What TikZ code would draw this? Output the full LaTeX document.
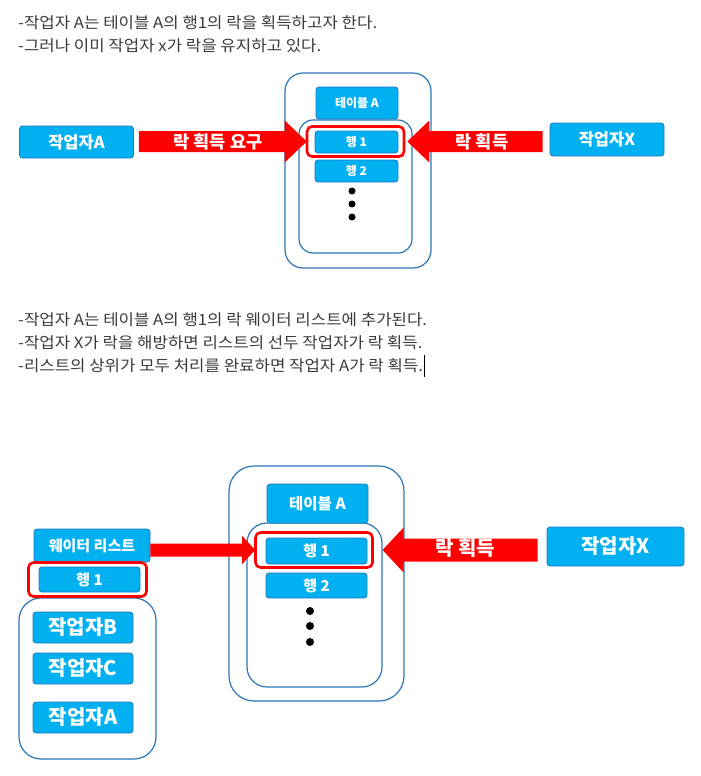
\documentclass[tikz,border=0pt]{standalone}
\usepackage{fontspec}
\setmainfont{Noto Sans CJK KR}
\newfontfamily\bodyfont{Noto Sans CJK KR}[FakeStretch=1.08]
\usetikzlibrary{calc}
\definecolor{boxfill}{HTML}{00B0F0}
\definecolor{boxline}{HTML}{1F78C0}
\definecolor{frameblue}{HTML}{2E75B6}
\definecolor{txt}{HTML}{3A3A3A}
\definecolor{arrred}{HTML}{FF0000}
\newcommand\fatarrow[5]{%
  \fill[arrred] ($(#1 |- #2)+(0,-#3)$) -- ($(#2)+(#5,-#3)$) -- ($(#2)+(#5,-#4)$) -- (#2)
    -- ($(#2)+(#5,#4)$) -- ($(#2)+(#5,#3)$) -- ($(#1 |- #2)+(0,#3)$) -- cycle;}
\begin{document}
\begin{tikzpicture}[x=1pt,y=-1pt,
  bbox/.style={draw=boxline, line width=0.8pt, fill=boxfill, rounded corners=3pt,
    text=white, font=\bfseries, inner sep=0pt},
  outerbox/.style={draw=frameblue, line width=1.2pt, fill=white, rounded corners=#1, inner sep=0pt},
  redframe/.style={draw=arrred, line width=2.6pt, rounded corners=5pt, inner sep=0pt},
  body/.style={anchor=west, text=txt, font=\bodyfont\fontsize{15.5}{18}\selectfont, inner sep=0pt},
  blackdot/.style={circle, fill=black, minimum size=7pt, inner sep=0pt},
  arrlabel/.style={text=white, font=\bfseries, inner sep=0pt}]
\useasboundingbox (0,0) rectangle (701,776);

% ---------- top text ----------
\node[body] (t1) at (18,23) {-작업자 A는 테이블 A의 행1의 락을 획득하고자 한다.};
\node[body] (t2) at (18,46) {-그러나 이미 작업자 x가 락을 유지하고 있다.};

% ---------- top diagram ----------
\node[outerbox=18pt, minimum width=146pt, minimum height=195pt] (out1) at (358,170.5) {};
\node[outerbox=14pt, minimum width=113pt, minimum height=133pt] (in1) at (355.5,186.5) {};
\node[bbox, minimum width=82pt, minimum height=32pt, font=\bfseries\fontsize{12}{13}\selectfont] (tabA1) at (357,103) {테이블 A};
\node[redframe, minimum width=97pt, minimum height=30pt] (rf1) at (355.5,141.5) {};
\node[bbox, minimum width=83pt, minimum height=22pt, font=\bfseries\fontsize{12}{13}\selectfont] (row11) at (356.5,142) {행 1};
\node[bbox, minimum width=83pt, minimum height=22pt, font=\bfseries\fontsize{12}{13}\selectfont] (row12) at (356.5,171) {행 2};
\node[blackdot] (d11) at (352,191) {};
\node[blackdot] (d12) at (352,204) {};
\node[blackdot] (d13) at (352,217) {};
\node[bbox, minimum width=114pt, minimum height=32pt, font=\bfseries\fontsize{16.5}{18}\selectfont] (wA1) at (76.5,142) {작업자A};
\node[bbox, minimum width=114pt, minimum height=33pt, font=\bfseries\fontsize{16.5}{18}\selectfont] (wX1) at (607,139.5) {작업자X};

\coordinate (tip1) at ($(rf1.west)+(1,0)$);
\coordinate (tail1) at ($(wA1.east)+(5,0)$);
\fatarrow{tail1}{tip1}{10.5}{21}{-22}
\coordinate (tip2) at ($(rf1.east)+(2,0)$);
\coordinate (tail2) at ($(wX1.west)+(-7,0)$);
\fatarrow{tail2}{tip2}{10.5}{21}{22}
\node[arrlabel, font=\bfseries\fontsize{17.5}{18}\selectfont] (lab1) at (218,141.5) {락 획득 요구};
\node[arrlabel, font=\bfseries\fontsize{17.5}{18}\selectfont] (lab2) at (482,141.5) {락 획득};

% ---------- lower text ----------
\node[body] (t3) at (18,320) {-작업자 A는 테이블 A의 행1의 락 웨이터 리스트에 추가된다.};
\node[body] (t4) at (18,343) {-작업자 X가 락을 해방하면 리스트의 선두 작업자가 락 획득.};
\node[body] (t5) at (18,366) {-리스트의 상위가 모두 처리를 완료하면 작업자 A가 락 획득.};
\draw[line width=0.7pt, black] (t5.east) ++(1.5,-11) -- ++(0,22);

% ---------- lower diagram ----------
\node[outerbox=25pt, minimum width=175pt, minimum height=235pt] (out2) at (316.5,583.5) {};
\node[outerbox=20pt, minimum width=135pt, minimum height=164pt] (in2) at (314.5,605) {};
\node[bbox, minimum width=101pt, minimum height=39pt, font=\bfseries\fontsize{15.5}{16}\selectfont] (tabA2) at (317.5,503.5) {테이블 A};
\node[redframe, minimum width=117pt, minimum height=35pt] (rf2) at (314,550) {};
\node[bbox, minimum width=101pt, minimum height=26pt, font=\bfseries\fontsize{15}{16}\selectfont] (row21) at (316.5,551) {행 1};
\node[bbox, minimum width=101pt, minimum height=25pt, font=\bfseries\fontsize{15}{16}\selectfont] (row22) at (316.5,585.5) {행 2};
\node[blackdot, minimum size=8pt] (d21) at (310,611) {};
\node[blackdot, minimum size=8pt] (d22) at (310,626) {};
\node[blackdot, minimum size=8pt] (d23) at (310,642) {};

\node[outerbox=22pt, minimum width=137pt, minimum height=161pt] (lst) at (87.5,678.5) {};
\node[bbox, minimum width=116pt, minimum height=33pt, font=\bfseries\fontsize{15}{16}\selectfont] (wl) at (92,545.5) {웨이터 리스트};
\node[redframe, minimum width=118pt, minimum height=34pt] (rf3) at (87.5,579.5) {};
\node[bbox, minimum width=101pt, minimum height=25pt, font=\bfseries\fontsize{15}{16}\selectfont] (lrow) at (89.5,579.5) {행 1};
\node[bbox, minimum width=100pt, minimum height=31pt, font=\bfseries\fontsize{20}{22}\selectfont] (wB) at (83,627.5) {작업자B};
\node[bbox, minimum width=100pt, minimum height=31pt, font=\bfseries\fontsize{20}{22}\selectfont] (wC) at (83,668.5) {작업자C};
\node[bbox, minimum width=100pt, minimum height=31pt, font=\bfseries\fontsize{20}{22}\selectfont] (wA2) at (83,717.5) {작업자A};
\node[bbox, minimum width=137pt, minimum height=39pt, font=\bfseries\fontsize{20}{22}\selectfont] (wX2) at (615.5,546.5) {작업자X};

\coordinate (tip3) at ($(rf2.west)+(1,0)$);
\coordinate (tail3) at (wl.east);
\fatarrow{tail3}{tip3}{6.5}{14}{-13}
\coordinate (tip4) at ($(in2.east)+(0,0)$);
\coordinate (tip4b) at (tip4 |- rf2.east);
\coordinate (tail4) at ($(wX2.west)+(-9,0)$);
\fatarrow{tail4}{tip4b}{11.5}{22.5}{21}
\node[arrlabel, font=\bfseries\fontsize{20}{21}\selectfont] (lab3) at (465,548) {락 획득};
\end{tikzpicture}
\end{document}
